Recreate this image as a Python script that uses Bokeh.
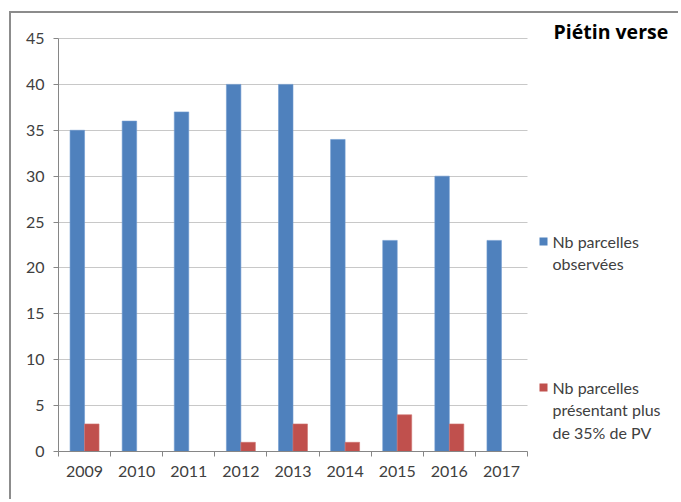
from bokeh.plotting import figure
from bokeh.models import Range1d, FixedTicker, Label, ColumnDataSource, BoxAnnotation
from bokeh.transform import dodge
from bokeh.embed import file_html
from bokeh.resources import INLINE

years = ["2009", "2010", "2011", "2012", "2013", "2014", "2015", "2016", "2017"]
observees = [35, 36, 37, 40, 40, 34, 23, 30, 23]
plus35 = [3, 0, 0, 1, 3, 1, 4, 3, 0]
y_ticks = [0, 5, 10, 15, 20, 25, 30, 35, 40, 45]
title_text = "Piétin verse"
legend_obs = ["Nb parcelles", "observées"]
legend_pv = ["Nb parcelles", "présentant plus", "de 35% de PV"]

BLUE = "#4f81bd"
RED = "#c0504d"
FONT = "Lato"
TXT = "#404040"

W, H = 669, 488
OX, OY = 11, 13          # canvas origin on the page
FL, FB = 58, 451         # frame left / bottom (page px)
XPU = 469 / 9            # px per category
YPU = 413 / 45           # px per unit

n = len(years)
x_end = (OX + W - FL) / XPU
y_end = (FB - OY) / YPU

centers = [i + 0.5 for i in range(n)]
src = ColumnDataSource(dict(x=centers, obs=observees, pv=plus35))

p = figure(width=W, height=H, x_range=Range1d(0, x_end), y_range=Range1d(0, y_end),
           output_backend="svg", toolbar_location=None,
           min_border_left=FL - OX, min_border_right=0,
           min_border_top=0, min_border_bottom=OY + H - FB)
p.styles = {"border-top": "2px solid #8c8c8c", "border-left": "2px solid #8c8c8c",
            "margin-left": "9px", "margin-top": "11px"}
p.outline_line_color = None
p.background_fill_color = "white"
p.border_fill_color = "white"

p.xgrid.visible = False
p.ygrid.grid_line_color = "#c8c8c8"
p.ygrid.ticker = FixedTicker(ticks=y_ticks)
# hide grid lines beyond the last category (legend area)
p.add_layout(BoxAnnotation(left=n, fill_color="white", fill_alpha=1, line_color=None, level="underlay"))

bw = 0.278
p.vbar(x=dodge("x", -bw / 2), top="obs", width=bw, source=src, fill_color=BLUE, line_color="#6f9bd0", line_width=0.6)
p.vbar(x=dodge("x", bw / 2), top="pv", width=bw, source=src, fill_color=RED, line_color="#d07370", line_width=0.6)

xa = p.xaxis[0]
xa.bounds = (0, n)
xa.ticker = FixedTicker(ticks=centers, minor_ticks=list(range(n + 1)))
xa.major_label_overrides = {c: y for c, y in zip(centers, years)}
xa.major_tick_out = 0
xa.major_tick_in = 0
xa.minor_tick_out = 5
xa.minor_tick_in = 0
xa.minor_tick_line_color = "#868686"
xa.axis_line_color = "#868686"
xa.major_label_text_font = FONT
xa.major_label_text_font_size = "16px"
xa.major_label_text_color = TXT
xa.major_label_standoff = 9

ya = p.yaxis[0]
ya.bounds = (0, 45)
ya.ticker = FixedTicker(ticks=y_ticks)
ya.major_tick_out = 5
ya.major_tick_in = 0
ya.minor_tick_line_color = None
ya.axis_line_color = "#868686"
ya.major_tick_line_color = "#868686"
ya.major_label_text_font = FONT
ya.major_label_text_font_size = "16px"
ya.major_label_text_color = TXT
ya.major_label_standoff = 9

def dx(px):
    return (px - FL) / XPU

def dy(py):
    return (FB - py) / YPU

p.add_layout(Label(x=dx(553), y=dy(31), text=title_text,
                   text_font="Open Sans", text_font_size="19.5px", text_font_style="bold",
                   text_color="black", text_baseline="middle"))

def legend_block(py0, color, lines):
    p.add_layout(BoxAnnotation(left=dx(539), right=dx(547), bottom=dy(py0 + 4), top=dy(py0 - 4),
                               fill_color=color, fill_alpha=1, line_color=None))
    for k, t in enumerate(lines):
        p.add_layout(Label(x=dx(552), y=dy(py0 + 22.3 * k), text=t, text_font=FONT,
                           text_font_size="16px", text_color=TXT, text_baseline="middle"))

legend_block(241, BLUE, legend_obs)
legend_block(387, RED, legend_pv)

open("out.html", "w").write(file_html(p, INLINE))
